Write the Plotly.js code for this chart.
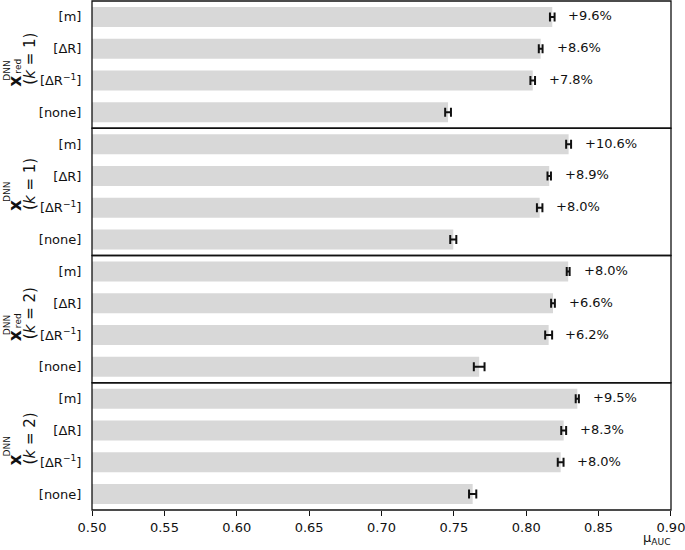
<!DOCTYPE html>
<html>
<head>
<meta charset="utf-8">
<script src="https://cdn.plot.ly/plotly-3.0.1.min.js"></script>
<style>html,body{margin:0;padding:0;background:#fff;}#chart{width:685px;height:550px;}</style>
</head>
<body>
<div id="chart"></div>
<script>
// ---- data ----
const categories = ['[m]', '[ΔR]', '[ΔR⁻¹]', '[none]'];
const tickLabels = ['[m]', '[ΔR]', '[ΔR<sup>−1</sup>]', '[none]'];
const xTicks = [0.50, 0.55, 0.60, 0.65, 0.70, 0.75, 0.80, 0.85, 0.90];
const xTickLabels = ['0.50', '0.55', '0.60', '0.65', '0.70', '0.75', '0.80', '0.85', '0.90'];

const aucRedK1 = [0.8180, 0.8100, 0.8045, 0.7460];
const errRedK1 = [0.0016, 0.0013, 0.0016, 0.0020];
const gainRedK1 = ['+9.6%', '+8.6%', '+7.8%', ''];

const aucFullK1 = [0.8293, 0.8159, 0.8093, 0.7496];
const errFullK1 = [0.0017, 0.0012, 0.0019, 0.0021];
const gainFullK1 = ['+10.6%', '+8.9%', '+8.0%', ''];

const aucRedK2 = [0.8290, 0.8185, 0.8155, 0.7675];
const errRedK2 = [0.0010, 0.0013, 0.0024, 0.0037];
const gainRedK2 = ['+8.0%', '+6.6%', '+6.2%', ''];

const aucFullK2 = [0.8353, 0.8259, 0.8238, 0.7630];
const errFullK2 = [0.0011, 0.0017, 0.0020, 0.0025];
const gainFullK2 = ['+9.5%', '+8.3%', '+8.0%', ''];

const panelRed = [true, false, true, false];
const panelK = ['1', '1', '2', '2'];
const panelAuc = [aucRedK1, aucFullK1, aucRedK2, aucFullK2];
const panelErr = [errRedK1, errFullK1, errRedK2, errFullK2];
const panelGain = [gainRedK1, gainFullK1, gainRedK2, gainFullK2];

// ---- styling ----
const FONT = 'DejaVu Sans, Verdana, sans-serif';
const INK = '#111111';
const BAR = '#d8d8d8';
const W = 685, H = 550;
const M = {l: 92, r: 14, t: 1, b: 40};
const plotW = W - M.l - M.r, plotH = H - M.t - M.b;
const nP = 4;
const panelH = plotH / nP;

const px2paperX = px => (px - M.l) / plotW;
const py2paperY = py => (H - M.b - py) / plotH;

const traces = [];
const annotations = [];
const shapes = [];
const layout = {
  width: W, height: H,
  margin: M,
  paper_bgcolor: '#fff', plot_bgcolor: '#fff',
  showlegend: false,
  font: {family: FONT, size: 13, color: INK},
  xaxis: {
    range: [0.49995, 0.90005], tickvals: xTicks, ticktext: xTickLabels,
    ticks: 'outside', ticklen: 5, tickwidth: 1, tickcolor: INK,
    ticklabeloverflow: 'allow',
    showgrid: false, zeroline: false, showline: false,
    anchor: 'y4', tickfont: {family: FONT, size: 13, color: INK}
  }
};

function addLabel(px, py, text, size) {
  annotations.push({xref: 'paper', yref: 'paper', x: px2paperX(px), y: py2paperY(py),
    text: text, textangle: -90, showarrow: false, xanchor: 'center', yanchor: 'middle',
    font: {family: FONT, size: size, color: INK}});
}

for (let i = 0; i < nP; i++) {
  const yName = i === 0 ? 'y' : 'y' + (i + 1);
  const axKey = i === 0 ? 'yaxis' : 'yaxis' + (i + 1);
  const top = 1 - i / nP, bot = 1 - (i + 1) / nP;
  layout[axKey] = {
    domain: [bot, top],
    type: 'category',
    categoryorder: 'array', categoryarray: categories,
    range: [3.5, -0.5],
    tickvals: categories, ticktext: tickLabels,
    ticks: 'outside', ticklen: 7, tickcolor: 'rgba(0,0,0,0)',
    showgrid: false, zeroline: false, showline: false,
    anchor: 'x', fixedrange: true,
    tickfont: {family: FONT, size: 13, color: INK}
  };
  traces.push({
    type: 'bar', orientation: 'h',
    x: panelAuc[i], y: categories,
    xaxis: 'x', yaxis: yName,
    marker: {color: BAR, line: {width: 0}},
    width: 0.63,
    error_x: {type: 'data', array: panelErr[i], visible: true, color: INK, thickness: 2, width: 4.5},
    hoverinfo: 'skip'
  });
  panelGain[i].forEach((g, j) => {
    if (!g) return;
    annotations.push({
      xref: 'x', yref: yName, x: panelAuc[i][j], y: j,
      text: g, showarrow: false, xanchor: 'left', yanchor: 'middle',
      xshift: 14, yshift: 1,
      font: {family: FONT, size: 13, color: INK}
    });
  });
  shapes.push({
    type: 'rect', xref: 'paper', yref: yName + ' domain',
    x0: 0, x1: 1, y0: 0, y1: 1,
    line: {color: INK, width: 1.3}, fillcolor: 'rgba(0,0,0,0)', layer: 'above'
  });
  const c = M.t + panelH * (i + 0.5);
  const kText = '(<i>k</i> = ' + panelK[i] + ')';
  if (panelRed[i]) {
    addLabel(15, c + 17, '<b>x</b>', 17);
    addLabel(7, c + 6, 'DNN', 9);
    addLabel(18, c + 2, 'red', 9);
    addLabel(30, c - 6, kText, 15);
  } else {
    addLabel(15, c + 14, '<b>x</b>', 17);
    addLabel(7, c, 'DNN', 9);
    addLabel(30, c - 8, kText, 15);
  }
}

annotations.push({
  xref: 'paper', yref: 'paper', x: 1, y: 0, xanchor: 'right', yanchor: 'bottom',
  yshift: -39, xshift: 2, showarrow: false,
  text: 'μ<sub>AUC</sub>', font: {family: FONT, size: 13, color: INK}
});

layout.annotations = annotations;
layout.shapes = shapes;

Plotly.newPlot('chart', traces, layout, {displayModeBar: false, staticPlot: true});
</script>
</body>
</html>
